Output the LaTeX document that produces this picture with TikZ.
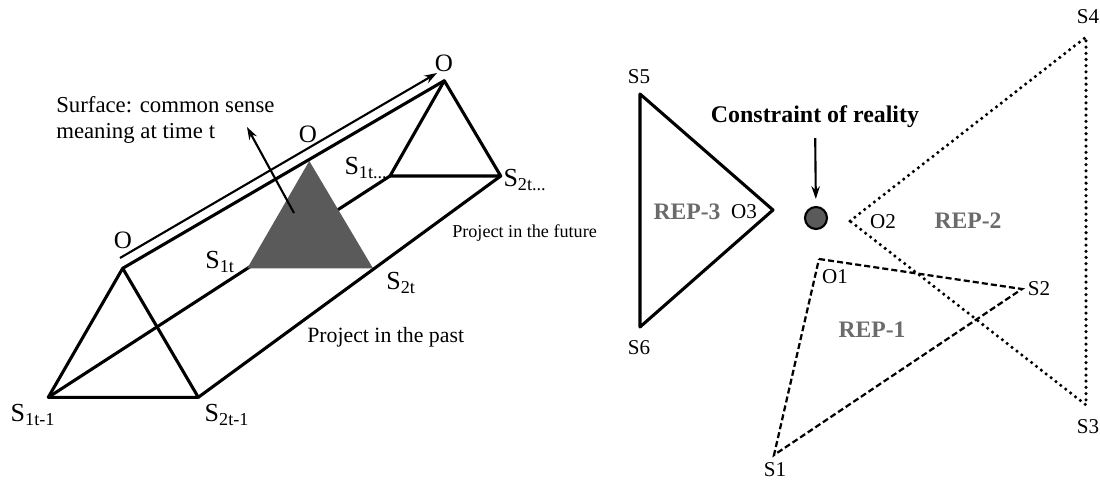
\documentclass[tikz,border=0pt]{standalone}
\usepackage{fontspec}
\setmainfont{Liberation Serif}
\usetikzlibrary{arrows.meta}
\definecolor{repgray}{HTML}{6B6B6B}
\definecolor{surfgray}{HTML}{5A5A5A}

\begin{document}
\begin{tikzpicture}[
      x=0.025cm, y=-0.025cm,
      edge/.style={line width=2.2pt, line join=round},
      dotline/.style={line width=2.5pt, line cap=round, dash pattern=on 0pt off 4.4pt},
      dashline/.style={line width=1.6pt, dash pattern=on 4.3pt off 2.2pt},
      olbl/.style={font=\fontsize{17.8}{19}\selectfont, inner sep=0pt},
      slbl/.style={font=\fontsize{18.5}{20}\selectfont, inner sep=0pt},
      rlbl/.style={font=\fontsize{15}{16}\selectfont, inner sep=0pt},
      replbl/.style={font=\fontsize{16.8}{18}\selectfont\bfseries, text=repgray, inner sep=0pt},
      note/.style={font=\fontsize{15.5}{18}\selectfont, inner sep=0pt, align=left},
      >={Stealth[length=9pt, width=6pt]},
    ]
    \useasboundingbox (0,0) rectangle (1100,481);

    % Prism corners
    \coordinate (fO) at (122.7,268.3);
    \coordinate (fS1) at (48.3,397.3);
    \coordinate (fS2) at (198.3,397.3);
    \coordinate (bO) at (444.3,80.7);
    \coordinate (bS1) at (390,176);
    \coordinate (bS2) at (500.7,176);
    \coordinate (tO) at (309.3,161);
    \coordinate (tS1) at (247.3,268.3);
    \coordinate (tS2) at (373,268.3);

    % Hidden edge behind the surface
    \draw[edge] (fS1) -- (bS1);
    \fill[surfgray] (tS1) -- (tO) -- (tS2) -- cycle;

    % Front and back triangles, long edges
    \draw[edge] (fS1) -- (fO) -- (fS2) -- cycle;
    \draw[edge] (bS1) -- (bO) -- (bS2) -- cycle;
    \draw[edge] (fO) -- (bO);
    \draw[edge] (fS2) -- (bS2);

    % Time arrow and surface arrow
    \coordinate (tlStart) at (120,258);
    \coordinate (tlEnd) at (437,73);
    \draw[->, line width=1.5pt] (tlStart) -- (tlEnd);
    \coordinate (surfTail) at (294,213);
    \coordinate (surfTip) at (247,127);
    \draw[->, line width=1.5pt] (surfTail) -- (surfTip);

    % Prism labels
    \node[olbl] (lO1) at (123,240) {O};
    \node[olbl] (lO2) at (308,134) {O};
    \node[olbl] (lO3) at (444,63) {O};
    \node[slbl] (lS1t) at (220,262) {S\textsubscript{1t}};
    \node[slbl] (lS2t) at (401,283) {S\textsubscript{2t}};
    \node[slbl] (lS1p) at (33,415) {S\textsubscript{1t-1}};
    \node[slbl] (lS2p) at (227,415) {S\textsubscript{2t-1}};
    \node[slbl] (lS1f) at (366,168) {S\textsubscript{1t...}};
    \node[slbl] (lS2f) at (525,180) {S\textsubscript{2t...}};
    \node[note, font=\fontsize{16.2}{18.2}\selectfont, anchor=west] (surf) at (56,120) {Surface: common sense\\meaning at time t};
    \node[note, anchor=west] (past) at (307,337) {Project in the past};
    \node[note, font=\fontsize{12.9}{15}\selectfont, anchor=west] (future) at (452,233) {Project in the future};

    % REP-3 (solid)
    \coordinate (s5) at (640,94);
    \coordinate (o3) at (773,210);
    \coordinate (s6) at (640,327);
    \draw[edge] (s5) -- (o3) -- (s6) -- cycle;

    % REP-2 (dotted)
    \coordinate (o2) at (850,221);
    \coordinate (s4) at (1086,37);
    \coordinate (s3) at (1086,405);
    \draw[dotline] (o2) -- (s4) -- (s3) -- cycle;

    % REP-1 (dashed)
    \coordinate (o1) at (819,259);
    \coordinate (s2) at (1022,289);
    \coordinate (s1) at (774,455);
    \draw[dashline] (o1) -- (s2) -- (s1) -- cycle;

    % Reality point
    \node[circle, draw, line width=1.5pt, fill=surfgray, minimum size=0.55cm, inner sep=0pt] (real) at (816,218) {};
    \node[font=\fontsize{17}{19}\selectfont\bfseries, inner sep=0pt] (cons) at (815,117) {Constraint of reality};
    \draw[->, line width=1.5pt, shorten <=7pt, shorten >=5pt] (cons) -- (real);

    % Right labels
    \node[rlbl] (lS5) at (639,77) {S5};
    \node[rlbl] (lS6) at (639,348) {S6};
    \node[rlbl] (lS4) at (1088,17) {S4};
    \node[rlbl] (lS3) at (1088,427) {S3};
    \node[rlbl] (lS2) at (1039,289) {S2};
    \node[rlbl] (lS1) at (775,470) {S1};
    \node[rlbl] (lO1r) at (835,277) {O1};
    \node[rlbl] (lO2r) at (883,222) {O2};
    \node[rlbl] (lO3r) at (744,212) {O3};
    \node[replbl] (rep3) at (687,212) {REP-3};
    \node[replbl] (rep2) at (968,221) {REP-2};
    \node[replbl] (rep1) at (872,330) {REP-1};
  \end{tikzpicture}
\end{document}
